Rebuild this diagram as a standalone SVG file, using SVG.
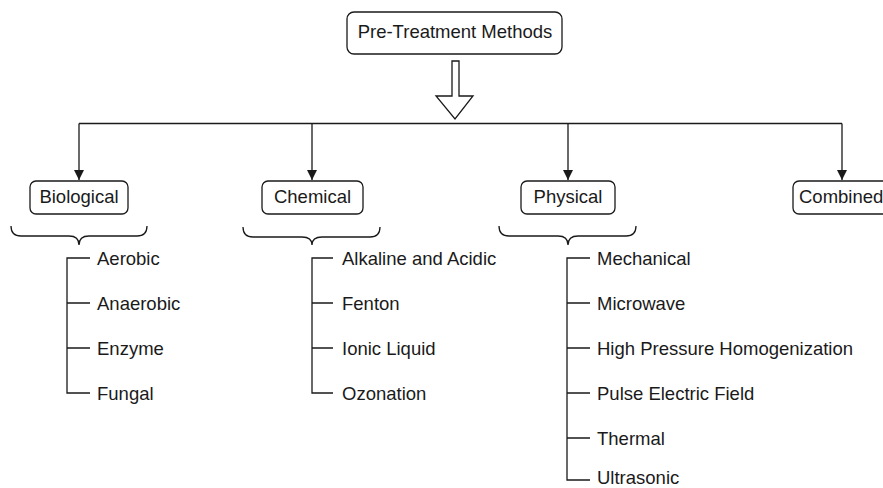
<svg xmlns="http://www.w3.org/2000/svg" width="883" height="488" viewBox="0 0 883 488">
  <defs>
    <style>
      .box { fill: #fff; stroke: #1a1a1a; stroke-width: 1.3; }
      .ln { fill: none; stroke: #1a1a1a; stroke-width: 1.3; }
      text { font-family: "Liberation Sans", Arial, sans-serif; font-size: 18.5px; fill: #1a1a1a; }
      .c { text-anchor: middle; }
    </style>
    <marker id="ah" viewBox="0 0 10 10" refX="10" refY="5" markerWidth="10" markerHeight="11" markerUnits="userSpaceOnUse" orient="auto">
      <path d="M0,0 L10,5 L0,10 Z" fill="#1a1a1a"/>
    </marker>
  </defs>
  <rect width="883" height="488" fill="#fff"/>

  <g id="root">
    <rect class="box" x="347" y="12" width="215" height="42" rx="7"/>
    <text class="c" x="455" y="38">Pre-Treatment Methods</text>
  </g>

  <g id="connectors">
    <!-- hollow block arrow -->
    <polygon class="ln" points="452,61 459,61 459,96 473,96 455,119 436,96 452,96"/>
    <!-- distribution bar and drops -->
    <path class="ln" d="M79,123.5 H842"/>
    <path class="ln" d="M79,123.5 V180" marker-end="url(#ah)"/>
    <path class="ln" d="M312,123.5 V180" marker-end="url(#ah)"/>
    <path class="ln" d="M568,123.5 V180" marker-end="url(#ah)"/>
    <path class="ln" d="M842,123.5 V180" marker-end="url(#ah)"/>
    <!-- braces -->
    <path class="ln" d="M11,226 Q11,236 21,236 H69 Q79,236 79,245 Q79,236 89,236 H137 Q147,236 147,226"/>
    <path class="ln" d="M243,227 Q243,237 253,237 H302 Q312,237 312,245 Q312,237 322,237 H370 Q380,237 380,227"/>
    <path class="ln" d="M499,226 Q499,236 509,236 H558 Q568,236 568,245 Q568,236 578,236 H626 Q636,236 636,226"/>
    <!-- item trees -->
    <path class="ln" d="M90,258 H67 V393 H90 M67,303 H90 M67,348 H90"/>
    <path class="ln" d="M333,258 H312 V393 H333 M312,303 H333 M312,348 H333"/>
    <path class="ln" d="M590,258 H567 V480 H590 M567,303 H590 M567,348 H590 M567,393 H590 M567,438 H590"/>
  </g>

  <g id="biological">
    <rect class="box" x="30" y="181" width="98" height="33" rx="6"/>
    <text class="c" x="79" y="203">Biological</text>
    <text x="97" y="265">Aerobic</text>
    <text x="97" y="310">Anaerobic</text>
    <text x="97" y="355">Enzyme</text>
    <text x="97" y="400">Fungal</text>
  </g>

  <g id="chemical">
    <rect class="box" x="262" y="181" width="101" height="33" rx="6"/>
    <text class="c" x="312.5" y="203">Chemical</text>
    <text x="342" y="265">Alkaline and Acidic</text>
    <text x="342" y="310">Fenton</text>
    <text x="342" y="355">Ionic Liquid</text>
    <text x="342" y="400">Ozonation</text>
  </g>

  <g id="physical">
    <rect class="box" x="521" y="181" width="94" height="33" rx="6"/>
    <text class="c" x="568" y="203">Physical</text>
    <text x="597" y="265">Mechanical</text>
    <text x="597" y="310">Microwave</text>
    <text x="597" y="355">High Pressure Homogenization</text>
    <text x="597" y="400">Pulse Electric Field</text>
    <text x="597" y="445">Thermal</text>
    <text x="597" y="484">Ultrasonic</text>
  </g>

  <g id="combined">
    <rect class="box" x="793" y="181" width="100" height="33" rx="6"/>
    <text x="799" y="203">Combined</text>
  </g>
</svg>
